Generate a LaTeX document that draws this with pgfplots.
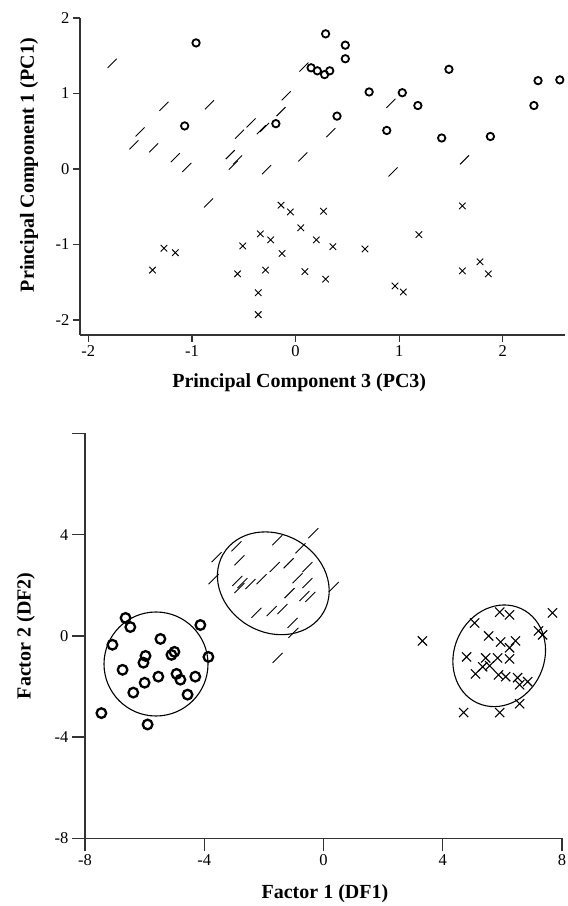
\documentclass[border=0pt]{standalone}
\usepackage{fontspec}
\setmainfont{Liberation Serif}
\usepackage{pgfplots}
\pgfplotsset{compat=1.18}
\pgfdeclareplotmark{slash}{%
  \pgfpathmoveto{\pgfqpoint{-\pgfplotmarksize}{-\pgfplotmarksize}}%
  \pgfpathlineto{\pgfqpoint{\pgfplotmarksize}{\pgfplotmarksize}}%
  \pgfusepathqstroke}
\pgfplotsset{
  base/.style={
    scale only axis,
    axis x line*=bottom, axis y line*=left,
    axis line style={-, line width=1.3pt, black!80},
    tick align=outside,
    major tick style={line width=1.3pt, black!80},
    tick label style={font=\fontsize{16.5}{16.5}\selectfont},
    label style={font=\bfseries\fontsize{20}{20}\selectfont},
    clip=false,
  },
}
\begin{document}
\begin{tikzpicture}
\begin{axis}[base,
  at={(80pt,571pt)}, anchor=south west,
  width=485pt, height=317pt,
  xmin=-2.08, xmax=2.6, ymin=-2.2, ymax=2,
  xtick={-2,-1,0,1,2}, xticklabels={-2,-1,0,1,2},
  ytick={-2,-1,0,1,2}, yticklabels={-2,-1,0,1,2},
  major tick length=7pt,
  xlabel={Principal Component 3 (PC3)},
  ylabel={Principal Component 1 (PC1)},
  xlabel style={at={(axis description cs:0.452,-0.152)}, anchor=center},
  ylabel style={at={(axis description cs:-0.105,0.536)}, anchor=center},
]
\addplot[only marks, mark=o, mark size=3.7pt, mark options={line width=1.8pt}] coordinates {
(-0.96,1.67) (-1.07,0.57) (-0.19,0.60) (0.29,1.79) (0.48,1.64) (0.48,1.46)
(0.15,1.34) (0.21,1.30) (0.28,1.25) (0.33,1.30) (1.48,1.32) (2.34,1.17)
(2.55,1.18) (0.71,1.02) (1.03,1.01) (1.18,0.84) (2.30,0.84) (0.40,0.70)
(0.88,0.51) (1.41,0.41) (1.88,0.43)};
\addplot[only marks, mark=x, mark size=4.6pt, mark options={line width=0.9pt}] coordinates {
(-1.27,-1.05) (-1.16,-1.11) (-1.38,-1.34) (-0.51,-1.02) (-0.56,-1.39) (-0.34,-0.86)
(-0.24,-0.94) (-0.29,-1.34) (-0.36,-1.64) (-0.36,-1.93) (-0.14,-0.48) (-0.05,-0.57)
(0.05,-0.78) (-0.13,-1.12) (0.09,-1.36) (0.20,-0.94) (0.27,-0.56) (0.29,-1.46)
(0.36,-1.03) (0.67,-1.06) (1.19,-0.87) (0.96,-1.55) (1.04,-1.63) (1.61,-0.49)
(1.61,-1.35) (1.78,-1.23) (1.86,-1.39)};
\addplot[only marks, mark=slash, mark size=4.5pt, mark options={line width=0.9pt}] coordinates {
(-1.77,1.40) (-1.27,0.83) (-0.83,0.85) (-1.50,0.49) (-1.56,0.32) (-1.37,0.28)
(-1.16,0.15) (-1.05,0.02) (-0.54,0.46) (-0.43,0.61) (-0.33,0.52) (-0.30,0.55)
(-0.09,0.97) (-0.14,0.76) (0.08,1.35) (-0.63,0.19) (-0.56,0.12) (-0.60,0.05)
(-0.28,-0.01) (0.07,0.16) (0.92,0.87) (0.34,0.48) (0.94,-0.04) (1.63,0.12)
(-0.84,-0.45)};
\end{axis}
\begin{axis}[base,
  at={(85pt,67.6pt)}, anchor=south west,
  width=477pt, height=405pt,
  xmin=-8, xmax=8, ymin=-8, ymax=8,
  xtick={-8,-4,0,4,8}, xticklabels={-8,-4,0,4,8},
  ytick={-8,-4,0,4,8}, yticklabels={-8,-4,0,4,},
  major tick length=13pt,
  xlabel={Factor 1 (DF1)},
  ylabel={Factor 2 (DF2)},
  xlabel style={at={(axis description cs:0.503,-0.136)}, anchor=center},
  ylabel style={at={(axis description cs:-0.124,0.5)}, anchor=center},
]
\addplot[only marks, mark=o, mark size=4.8pt, mark options={line width=2.3pt}] coordinates {
(-6.64,0.71) (-6.48,0.35) (-7.08,-0.35) (-5.47,-0.12) (-4.13,0.43) (-3.86,-0.83)
(-5.97,-0.79) (-6.04,-1.06) (-5.0,-0.63) (-5.1,-0.75) (-6.74,-1.34) (-5.54,-1.61)
(-4.93,-1.50) (-4.80,-1.73) (-4.30,-1.61) (-6.0,-1.85) (-6.38,-2.24) (-4.56,-2.32)
(-7.45,-3.05) (-5.9,-3.5)};
\addplot[only marks, mark=x, mark size=6.5pt, mark options={line width=1.1pt}] coordinates {
(3.32,-0.20) (7.68,0.91) (5.91,0.94) (6.24,0.83) (5.07,0.51) (5.54,0.0)
(7.21,0.20) (7.35,0.04) (5.94,-0.24) (6.44,-0.20) (6.24,-0.47) (4.80,-0.83)
(5.44,-0.87) (5.84,-0.87) (6.24,-0.91) (5.34,-1.22) (5.57,-1.18) (5.10,-1.50)
(5.87,-1.54) (6.11,-1.61) (6.51,-1.65) (6.85,-1.81) (6.58,-1.93) (4.70,-3.03)
(5.91,-3.03) (6.58,-2.68)};
\addplot[only marks, mark=slash, mark size=5pt, mark options={line width=0.9pt}] coordinates {
(-0.34,4.06) (-1.55,3.78) (-2.92,3.54) (-0.77,3.46) (-3.59,3.11) (-2.82,2.99)
(-1.17,2.87) (-1.64,2.72) (-0.54,2.72) (-3.69,2.24) (-0.87,2.28) (-2.08,2.24)
(-2.89,2.17) (-2.72,2.09) (-2.45,2.05) (-2.82,1.89) (-0.54,2.09) (0.34,1.93)
(-1.14,1.69) (-0.64,1.57) (-0.44,1.54) (-2.25,0.91) (-1.74,0.98) (-1.38,1.06)
(-1.04,0.51) (-1.01,0.12) (-1.54,-0.87)};
\end{axis}
\draw[line width=1.1pt] (156pt,242pt) circle [radius=52pt];
\draw[line width=1.1pt, rotate around={-30:(273.3pt,322.7pt)}] (273.3pt,322.7pt) ellipse [x radius=58pt, y radius=49pt];
\draw[line width=1.1pt, rotate around={-25:(499.2pt,250.2pt)}] (499.2pt,250.2pt) ellipse [x radius=45pt, y radius=52pt];
\pgfresetboundingbox
\path[use as bounding box] (0,0) rectangle (568pt,906pt);
\end{tikzpicture}
\end{document}
